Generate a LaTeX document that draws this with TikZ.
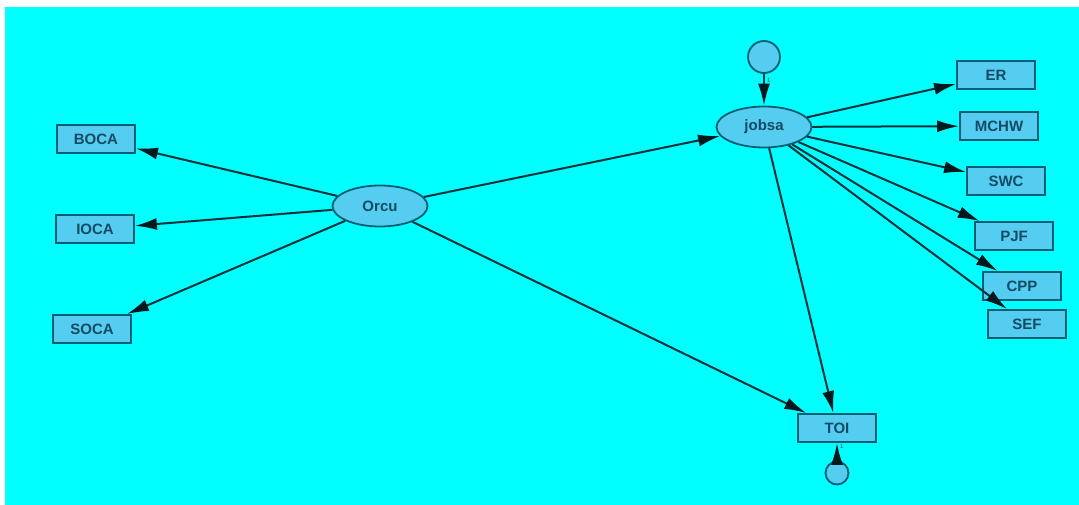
\documentclass[tikz,border=0pt]{standalone}
\usepackage{fontspec}
\setmainfont{Liberation Sans}
\usetikzlibrary{arrows.meta,shapes.geometric}
\definecolor{bgcyan}{RGB}{0,255,255}
\definecolor{nodefill}{RGB}{85,205,240}
\definecolor{nodeline}{RGB}{0,95,115}
\definecolor{nodetext}{RGB}{20,75,100}
\definecolor{edgecol}{RGB}{0,50,60}
\definecolor{tipcol}{RGB}{0,25,30}
\tikzset{
  obs/.style={draw=nodeline, line width=1.8pt, fill=nodefill, rectangle,
    minimum width=78pt, minimum height=28pt, inner sep=0pt,
    font=\fontsize{15}{15}\selectfont\bfseries, text=nodetext},
  lat/.style={draw=nodeline, line width=1.8pt, fill=nodefill, ellipse,
    minimum width=95pt, minimum height=41pt, inner sep=0pt,
    font=\fontsize{15}{15}\selectfont\bfseries, text=nodetext},
  errc/.style={draw=nodeline, line width=1.8pt, fill=nodefill, circle, inner sep=0pt},
  conn/.style={draw=edgecol, line width=2pt,
    -{Latex[length=22pt,width=12pt,color=tipcol]}},
  one/.style={font=\fontsize{6}{6}\selectfont, text=nodetext, inner sep=0pt}
}
\begin{document}
\begin{tikzpicture}[x=1pt,y=-1pt]
\useasboundingbox (0,0) rectangle (1079,505);
\fill[white] (0,0) rectangle (1079,505);
\fill[bgcyan] (5,7) rectangle (1079,505);

\node[lat] (orcu) at (380,206) {Orcu};
\node[lat] (jobsa) at (764,127) {jobsa};
\node[errc, minimum size=32pt] (e1) at (764,57) {};
\node[obs] (toi) at (837,428) {TOI};
\node[errc, minimum size=23pt] (e2) at (837,473) {};

\node[obs] (boca) at (96,139) {BOCA};
\node[obs] (ioca) at (95,229) {IOCA};
\node[obs] (soca) at (92,329) {SOCA};

\node[obs] (er) at (996,75) {ER};
\node[obs] (mchw) at (999,126) {MCHW};
\node[obs] (swc) at (1006,181) {SWC};
\node[obs] (pjf) at (1014,236) {PJF};
\node[obs] (cpp) at (1022,286) {CPP};
\node[obs] (sef) at (1027,324) {SEF};

\draw[conn] (orcu) -- (boca);
\draw[conn] (orcu) -- (ioca);
\draw[conn] (orcu) -- (soca);
\draw[conn] (orcu) -- (jobsa);
\draw[conn] (orcu) -- (toi);

\draw[conn] (jobsa) -- (er);
\draw[conn] (jobsa) -- (mchw);
\draw[conn] (jobsa) -- (swc);
\draw[conn] (jobsa) -- (pjf);
\draw[conn] (jobsa) -- (cpp);
\draw[conn] (jobsa) -- (sef);
\draw[conn] (jobsa) -- (toi);

\draw[conn] (e1) -- node[one, right=2pt, pos=0.2] {1} (jobsa);
\draw[conn] (e2) -- node[one, right=2pt, pos=0.8] {1} (toi);
\end{tikzpicture}
\end{document}
